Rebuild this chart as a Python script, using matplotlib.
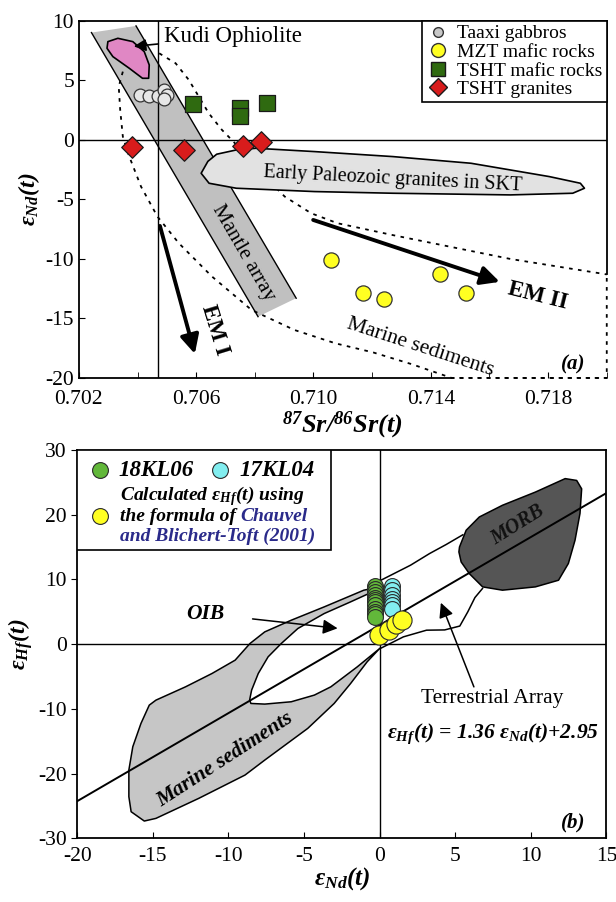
import matplotlib
matplotlib.use("Agg")
import matplotlib.pyplot as plt
import numpy as np
from matplotlib.patches import Polygon, Rectangle
from matplotlib.lines import Line2D

plt.rcParams['font.family'] = ['Liberation Serif', 'DejaVu Serif']
plt.rcParams['mathtext.fontset'] = 'custom'
plt.rcParams['mathtext.rm'] = 'Liberation Serif:bold:italic'
plt.rcParams['mathtext.it'] = 'Liberation Serif:bold:italic'
plt.rcParams['mathtext.bf'] = 'Liberation Serif:bold:italic'
plt.rcParams['axes.unicode_minus'] = False

# ---- panel (a) data: Sr-Nd ----
taaxi_sr = [0.7041, 0.7044, 0.7047, 0.7049, 0.7050, 0.7049]
taaxi_nd = [3.8, 3.7, 3.7, 4.2, 3.8, 3.4]
mzt_sr = [0.7106, 0.7117, 0.7124, 0.7143, 0.7152]
mzt_nd = [-10.1, -12.9, -13.4, -11.3, -12.9]
tsht_mafic_sr = [0.7059, 0.7075, 0.7075, 0.7084]
tsht_mafic_nd = [3.0, 2.7, 2.0, 3.1]
tsht_gr_sr = [0.7038, 0.7056, 0.7076, 0.7082]
tsht_gr_nd = [-0.6, -0.85, -0.5, -0.15]

# fields
mantle_sr = [0.70243, 0.70395, 0.70941, 0.70811]
mantle_nd = [9.02, 9.58, -13.3, -14.85]
kudi_sr = [0.70299, 0.70333, 0.70384, 0.70423, 0.70440, 0.70438, 0.70417, 0.70372, 0.70316, 0.70296]
kudi_nd = [8.26, 8.54, 8.26, 7.42, 6.30, 5.18, 5.18, 6.02, 7.0, 7.70]
skt_sr = [0.70617, 0.70640, 0.70670, 0.70737, 0.70804, 0.71004, 0.71271, 0.71537, 0.71804, 0.71910,
          0.71924, 0.71884, 0.71671, 0.71271, 0.71004, 0.70737, 0.70644]
skt_nd = [-2.8, -1.8, -1.2, -0.84, -0.7, -0.98, -1.4, -1.96, -3.08, -3.64,
          -4.06, -4.48, -4.62, -4.48, -4.34, -4.06, -3.64]
sed_left_sr = [0.70350, 0.70336, 0.70341, 0.70350, 0.70372, 0.70412, 0.70468, 0.70541, 0.70654,
               0.70789, 0.70935, 0.71076, 0.71204, 0.71337, 0.71471, 0.7200, 0.7200]
sed_left_nd = [5.74, 4.48, 2.52, 0.28, -1.40, -3.92, -6.44, -8.68, -11.48,
               -14.29, -15.97, -17.1, -17.86, -18.86, -20.0, -20.0, -11.3]
sed_right_sr = [0.70474, 0.70530, 0.70575, 0.70609, 0.70643, 0.70688, 0.70727, 0.70834, 0.70902,
                0.70992, 0.71082, 0.71271, 0.71671, 0.7200]
sed_right_nd = [7.28, 6.44, 5.04, 3.64, 2.24, 0.84, -0.14, -3.08, -4.76,
                -6.16, -7.0, -8.0, -10.0, -11.3]

# ---- panel (b) data: Nd-Hf ----
kl06_nd = [-0.3] * 12
kl06_hf = [9.0, 8.5, 8.0, 7.6, 7.2, 6.8, 6.5, 6.0, 5.5, 5.0, 4.6, 4.2]
kl04_nd = [0.8] * 7
kl04_hf = [9.0, 8.3, 7.6, 7.0, 6.5, 6.0, 5.5]
calc_nd = [-0.05, 0.6, 1.1, 1.5]
calc_hf = [1.4, 2.2, 3.1, 3.7]

tarray_slope = 1.36
tarray_icpt = 2.95

morb_nd = [5.28, 5.72, 6.59, 8.12, 10.3, 12.27, 13.03, 13.36, 13.25, 12.92, 12.48, 11.83,
           10.3, 8.12, 6.81, 5.93, 5.39, 5.24]
morb_hf = [15.02, 17.6, 19.65, 21.46, 23.5, 25.58, 25.3, 24.0, 20.2, 16.05, 12.46, 9.88,
           8.85, 8.34, 8.85, 10.9, 12.7, 14.25]
msed_nd = [-0.5, -1.05, -3.67, -5.85, -7.6, -8.58, -9.56, -11.09, -12.84, -14.8, -15.24, -15.79,
           -16.33, -16.59, -16.59, -16.44, -15.57, -14.8, -11.97, -8.91, -7.6, -4.76, -3.01,
           -1.92, -0.83, 0.0, -1.48, -3.23, -4.32, -5.85, -7.6, -8.52, -8.6, -8.47, -8.03,
           -7.38, -6.51, -5.41, -3.67, -1.92, -0.72]
msed_hf = [8.6, 8.34, 5.76, 3.7, 1.9, 0.1, -2.47, -4.53, -6.59, -8.65, -9.42, -12.25,
           -15.85, -19.45, -23.57, -25.89, -27.33, -26.92, -23.83, -20.23, -17.91, -13.02, -9.16,
           -6.07, -2.73, -0.67, -3.5, -6.59, -7.87, -8.9, -9.26, -9.16, -8.6, -7.1, -4.53,
           -1.96, 0.1, 2.42, 4.73, 6.54, 7.82]
oib_up_nd = [-0.5, 0.1, 2.04, 3.3, 4.4, 5.5]
oib_up_hf = [8.6, 9.9, 12.2, 14.0, 15.4, 16.9]
oib_lo_nd = [0.0, 0.04, 1.57, 3.1, 4.3, 5.3, 5.83, 6.3, 6.8]
oib_lo_hf = [-0.67, -0.67, 1.13, 2.16, 2.2, 2.8, 5.0, 7.2, 8.6]

fig = plt.figure(figsize=(6.16, 9.02), dpi=100)
ax1 = fig.add_axes([0.128, 0.581, 0.857, 0.3958])
ax2 = fig.add_axes([0.1255, 0.0706, 0.859, 0.4305])

TICK = 15.5

# ================= panel (a) =================
ax1.set_xlim(0.702, 0.720)
ax1.set_ylim(-20, 10)

ax1.add_patch(Polygon(list(zip(mantle_sr, mantle_nd)), closed=True, fc='#c0c0c0', ec='none', zorder=1))
ax1.plot([mantle_sr[1], mantle_sr[2]], [mantle_nd[1], mantle_nd[2]], color='k', lw=1, zorder=2)
ax1.plot([mantle_sr[0], mantle_sr[3]], [mantle_nd[0], mantle_nd[3]], color='k', lw=1, zorder=2)
ax1.add_patch(Polygon(list(zip(kudi_sr, kudi_nd)), closed=True, fc='#e087c4', ec='k', lw=1.2,
                      joinstyle='round', zorder=3))
ax1.plot(sed_left_sr, sed_left_nd, color='k', ls=(0, (2, 3)), lw=1.3, zorder=2, clip_on=False)
ax1.plot(sed_right_sr, sed_right_nd, color='k', ls=(0, (2, 3)), lw=1.3, zorder=2, clip_on=False)
ax1.add_patch(Polygon(list(zip(skt_sr, skt_nd)), closed=True, fc='#e2e2e2', ec='k', lw=1.2,
                      joinstyle='round', zorder=3))

ax1.axvline(0.7047, color='k', lw=1, zorder=2)
ax1.axhline(0, color='k', lw=1, zorder=2)

ax1.scatter(taaxi_sr, taaxi_nd, s=85, c='#e6e6e6', edgecolors='#333333', linewidths=0.9, zorder=5)
ax1.scatter(mzt_sr, mzt_nd, s=120, c='#ffff22', edgecolors='#333333', linewidths=0.9, zorder=5)
ax1.scatter(tsht_mafic_sr, tsht_mafic_nd, s=130, marker='s', c='#2f6a10', edgecolors='#1a1a1a',
            linewidths=0.9, zorder=5)
ax1.scatter(tsht_gr_sr, tsht_gr_nd, s=120, marker='D', c='#d81c1c', edgecolors='#1a1a1a',
            linewidths=0.9, zorder=5)

# arrows
ax1.annotate('', xy=(0.70598, -18.2), xytext=(0.70474, -7.0),
             arrowprops=dict(arrowstyle='-|>', color='k', lw=2.8, mutation_scale=28), zorder=6)
ax1.annotate('', xy=(0.71644, -12.0), xytext=(0.70990, -6.65),
             arrowprops=dict(arrowstyle='-|>', color='k', lw=2.8, mutation_scale=28), zorder=6)
ax1.annotate('Kudi Ophiolite', xy=(0.70378, 7.84), xytext=(0.70490, 8.68), fontsize=16.5,
             va='center', ha='left',
             arrowprops=dict(arrowstyle='-|>', color='k', lw=1.2, mutation_scale=18), zorder=6)

ax1.text(0.71271, -3.3, 'Early Paleozoic granites in SKT', fontsize=14.5, ha='center', va='center',
         rotation=-3, zorder=6)
ax1.text(0.70760, -9.5, 'Mantle array', fontsize=15, ha='center', va='center', rotation=-60, zorder=6)
ax1.text(0.70665, -16.0, 'EM I', fontsize=16.5, fontweight='bold', ha='center', va='center',
         rotation=-73, zorder=6)
ax1.text(0.71764, -13.1, 'EM II', fontsize=16.5, fontweight='bold', ha='center', va='center',
         rotation=-14, zorder=6)
ax1.text(0.71364, -17.4, 'Marine sediments', fontsize=15.5, ha='center', va='center',
         rotation=-18, zorder=6)
ax1.text(0.71884, -18.9, '(a)', fontsize=15, fontweight='bold', fontstyle='italic',
         ha='center', va='center', zorder=6)

ax1.set_xticks([0.702, 0.706, 0.710, 0.714, 0.718])
ax1.set_xticklabels(['0.702', '0.706', '0.710', '0.714', '0.718'])
ax1.set_xticks(np.arange(0.704, 0.720, 0.004), minor=True)
ax1.set_yticks([10, 5, 0, -5, -10, -15, -20])
ax1.tick_params(axis='both', which='both', direction='in', labelsize=TICK, length=4)
ax1.tick_params(axis='x', pad=9)

# partly dashed frame
ax1.spines['bottom'].set_bounds(0.702, 0.7147)
ax1.spines['right'].set_bounds(-11.3, 10)
ax1.plot([0.7147, 0.7200], [-20, -20], color='k', ls=(0, (2, 3)), lw=1.3, clip_on=False, zorder=2)
for sp in ax1.spines.values():
    sp.set_linewidth(1.3)

ax1.set_ylabel(r'ε$_{Nd}$(t)', fontsize=17, fontweight='bold', fontstyle='italic', labelpad=2)
ax1.set_xlabel(r'$^{87}$Sr/$^{86}$Sr(t)', fontsize=19, fontweight='bold', fontstyle='italic',
               labelpad=0)

handles = [
    Line2D([], [], ls='none', marker='o', ms=7, mfc='#c8c8c8', mec='#333333'),
    Line2D([], [], ls='none', marker='o', ms=10, mfc='#ffff22', mec='#333333'),
    Line2D([], [], ls='none', marker='s', ms=9.5, mfc='#2f6a10', mec='#1a1a1a'),
    Line2D([], [], ls='none', marker='D', ms=9, mfc='#d81c1c', mec='#1a1a1a'),
]
labels = ['Taaxi gabbros', 'MZT mafic rocks', 'TSHT mafic rocks', 'TSHT granites']
leg = ax1.legend(handles, labels, loc='upper right', fontsize=14, frameon=True, fancybox=False,
                 borderpad=0.2, labelspacing=0.05, handletextpad=0.4, handlelength=1.2,
                 borderaxespad=0.0, framealpha=1)
leg.get_frame().set_edgecolor('k')
leg.get_frame().set_linewidth(1.2)

# ================= panel (b) =================
ax2.set_xlim(-20, 15)
ax2.set_ylim(-30, 30)

ax2.add_patch(Polygon(list(zip(msed_nd, msed_hf)), closed=True, fc='#c6c6c6', ec='k', lw=1.1,
                      joinstyle='round', zorder=1))
ax2.add_patch(Polygon(list(zip(morb_nd, morb_hf)), closed=True, fc='#555555', ec='k', lw=1.1,
                      joinstyle='round', zorder=1))
ax2.plot(oib_up_nd, oib_up_hf, color='k', lw=1.1, zorder=1)
ax2.plot(oib_lo_nd, oib_lo_hf, color='k', lw=1.1, zorder=1)

xs = np.array(ax2.get_xlim())
ax2.plot(xs, tarray_slope * xs + tarray_icpt, color='k', lw=1.4, zorder=2)
ax2.axvline(0, color='k', lw=1, zorder=2)
ax2.axhline(0, color='k', lw=1, zorder=2)

ax2.scatter(kl06_nd, kl06_hf, s=130, c='#62b83a', edgecolors='#2a2a2a', linewidths=0.8, zorder=5)
ax2.scatter(kl04_nd, kl04_hf, s=130, c='#82eef0', edgecolors='#2a2a2a', linewidths=0.8, zorder=5)
ax2.scatter(calc_nd, calc_hf, s=190, c='#ffff22', edgecolors='#2a2a2a', linewidths=0.8, zorder=6)

ax2.text(9.1, 18.4, 'MORB', fontsize=14.5, fontweight='bold', fontstyle='italic', color='#111111',
         ha='center', va='center', rotation=32, zorder=6)
ax2.annotate('OIB', xy=(-2.6, 2.4), xytext=(-11.5, 4.7), fontsize=15.5, fontweight='bold',
             fontstyle='italic', ha='center', va='center',
             arrowprops=dict(arrowstyle='-|>', color='k', lw=1.1, mutation_scale=22,
                             shrinkA=18), zorder=6)
ax2.annotate('', xy=(3.98, 6.8), xytext=(6.3, -7.0),
             arrowprops=dict(arrowstyle='-|>', color='k', lw=1.1, mutation_scale=22), zorder=6)
ax2.text(7.47, -8.4, 'Terrestrial Array', fontsize=15.5, ha='center', va='center', zorder=6)
ax2.text(7.47, -13.8, r'ε$_{Hf}$(t) = 1.36 ε$_{Nd}$(t)+2.95', fontsize=15.5, fontweight='bold',
         fontstyle='italic', ha='center', va='center', zorder=6)
ax2.text(-10.2, -17.9, 'Marine sediments', fontsize=15.5, fontweight='bold', fontstyle='italic',
         ha='center', va='center', rotation=33, zorder=6)
ax2.text(12.8, -27.6, '(b)', fontsize=15, fontweight='bold', fontstyle='italic',
         ha='center', va='center', zorder=6)

# legend box for (b)
ax2.add_patch(Rectangle((0, 0.7425), 0.4797, 0.2575, transform=ax2.transAxes, fc='white',
                        ec='k', lw=1.2, zorder=7))
ax2.scatter([0.0425], [0.9485], s=130, c='#62b83a', edgecolors='#2a2a2a', linewidths=0.8,
            transform=ax2.transAxes, zorder=8, clip_on=False)
ax2.scatter([0.2706], [0.9485], s=130, c='#82eef0', edgecolors='#2a2a2a', linewidths=0.8,
            transform=ax2.transAxes, zorder=8, clip_on=False)
ax2.scatter([0.0425], [0.830], s=130, c='#ffff22', edgecolors='#2a2a2a', linewidths=0.8,
            transform=ax2.transAxes, zorder=8, clip_on=False)
bi = dict(fontweight='bold', fontstyle='italic', transform=ax2.transAxes, va='center', zorder=8)
ax2.text(0.078, 0.9485, '18KL06', fontsize=16.5, **bi)
ax2.text(0.306, 0.9485, '17KL04', fontsize=16.5, **bi)
ax2.text(0.080, 0.8815, r'Calculated ε$_{Hf}$(t) using', fontsize=14, **bi)
t1 = ax2.text(0.080, 0.830, 'the formula of ', fontsize=14, **bi)
ax2.annotate('Chauvel', xycoords=t1, xy=(1, 0.5), va='center', fontsize=14,
             fontweight='bold', fontstyle='italic', color='#2a2a8a', zorder=8)
ax2.text(0.080, 0.7767, 'and Blichert-Toft (2001)', fontsize=14, color='#2a2a8a', **bi)

ax2.set_xticks([-20, -15, -10, -5, 0, 5, 10, 15])
ax2.set_yticks([-30, -20, -10, 0, 10, 20, 30])
ax2.tick_params(axis='x', direction='in', labelsize=TICK, length=4, pad=6)
ax2.tick_params(axis='y', direction='out', labelsize=TICK, length=4)
for sp in ax2.spines.values():
    sp.set_linewidth(1.3)
ax2.set_ylabel(r'ε$_{Hf}$(t)', fontsize=17, fontweight='bold', fontstyle='italic', labelpad=2)
ax2.set_xlabel(r'ε$_{Nd}$(t)', fontsize=18, fontweight='bold', fontstyle='italic', labelpad=0)

fig.savefig('out.png', dpi=100)
